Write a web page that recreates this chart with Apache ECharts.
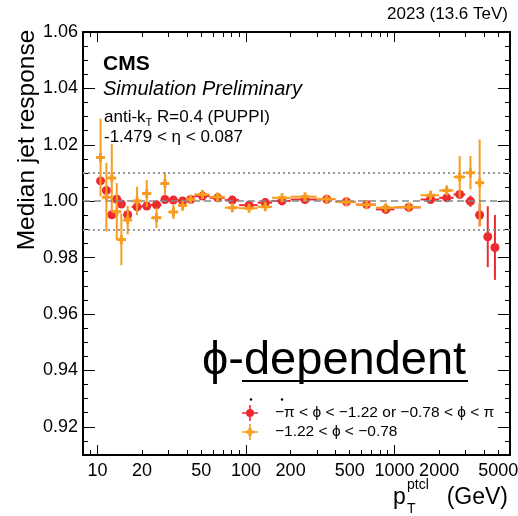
<!DOCTYPE html>
<html>
<head>
<meta charset="utf-8">
<script src="https://cdn.jsdelivr.net/npm/echarts@6/dist/echarts.min.js"></script>
<style>
  html, body { margin: 0; padding: 0; background: #fff; }
  #chart { width: 518px; height: 516px; }
</style>
</head>
<body>
<div id="chart"></div>
<script>
// pT bin edges (GeV); points sit at the bin centres
const binEdges = [10, 11, 12, 13, 14, 15, 17, 20, 23, 27, 30, 35, 40, 45, 57, 72, 90, 120, 150, 200,
  300, 400, 550, 750, 1000, 1500, 2000, 2500, 3000, 3500, 4000, 4500, 5000];

// -pi < phi < -1.22 or -0.78 < phi < pi
const redValues = [1.0072, 1.0038, 0.9952, 1.0007, 0.9990, 0.9952, 0.9980, 0.9983, 0.9987, 1.0006,
  1.0004, 1.0001, 1.0006, 1.0018, 1.0012, 1.0004, 0.9986, 0.9995, 1.0001, 1.0006,
  1.0007, 0.9998, 0.9988, 0.9971, 0.9978, 1.0006, 1.0012, 1.0024, 1.0000, 0.9951,
  0.9874, 0.9836];
const redErrors = [0.0012, 0.0012, 0.0012, 0.0012, 0.0011, 0.0010, 0.0009, 0.0008, 0.0007, 0.0007,
  0.0006, 0.0006, 0.0005, 0.0005, 0.0004, 0.0004, 0.0004, 0.0004, 0.0004, 0.0004,
  0.0004, 0.0005, 0.0005, 0.0006, 0.0006, 0.0008, 0.0010, 0.0015, 0.0020, 0.0040,
  0.0108, 0.0115];

// -1.22 < phi < -0.78
const orangeValues = [1.0155, 1.0014, 1.0082, 0.9963, 0.9864, 0.9933, 1.0001, 1.0027, 0.9941, 1.0063,
  0.9962, 0.9985, 1.0007, 1.0024, 1.0015, 0.9977, 0.9975, 0.9980, 1.0012, 1.0016,
  1.0008, 0.9997, 0.9987, 0.9977, 0.9979, 1.0021, 1.0038, 1.0086, 1.0101, 1.0065];
const orangeErrors = [0.0138, 0.0122, 0.0120, 0.0101, 0.0091, 0.0051, 0.0050, 0.0048, 0.0036, 0.0040,
  0.0025, 0.0020, 0.0015, 0.0012, 0.0010, 0.0009, 0.0008, 0.0008, 0.0008, 0.0007,
  0.0008, 0.0009, 0.0010, 0.0011, 0.0012, 0.0015, 0.0018, 0.0074, 0.0059, 0.0154];

const refLines = [0.99, 1.0, 1.01];

const xLabelValues = [10, 20, 50, 100, 200, 500, 1000, 2000, 5000];
const xDecadeTicks = [10, 100, 1000];
const xMinorTicks = [8, 9, 20, 30, 40, 50, 60, 70, 80, 90, 200, 300, 400, 500, 600, 700, 800, 900,
  2000, 3000, 4000, 5000];
const yLabelValues = [0.92, 0.94, 0.96, 0.98, 1.00, 1.02, 1.04, 1.06];
const yMinorTicks = [0.915, 0.925, 0.93, 0.935, 0.945, 0.95, 0.955, 0.965, 0.97, 0.975, 0.985, 0.99,
  0.995, 1.005, 1.01, 1.015, 1.025, 1.03, 1.035, 1.045, 1.05, 1.055];

const RED = '#ec2a30';
const ORANGE = '#f89c20';
const FONT = '"Liberation Sans", Arial, sans-serif';
const redName = '\u2212\u03c0 < \u03d5 < \u22121.22 or \u22120.78 < \u03d5 < \u03c0';
const orangeName = '\u22121.22 < \u03d5 < \u22120.78';

const plusPath = 'path://M3,0H6V3H9V6H6V9H3V6H0V3H3Z';
const redIcon = 'path://M9,0H11V20H9Z M0,9H20V11H0Z M15,10A5,5,0,1,1,5,10A5,5,0,1,1,15,10Z';
const orangeIcon = 'path://M9,0H11V20H9Z M0,9H20V11H0Z M8,5H12V8H15V12H12V15H8V12H5V8H8Z';

const buildRows = (values, errors) => values.map((v, i) => {
  const lo = binEdges[i];
  const hi = binEdges[i + 1];
  return [(lo + hi) / 2, v, errors[i], lo, hi];
});
const redRows = buildRows(redValues, redErrors);
const orangeRows = buildRows(orangeValues, orangeErrors);

const errorBars = (color) => (params, api) => {
  const x = api.value(0), y = api.value(1), e = api.value(2);
  const top = api.coord([x, y + e]);
  const bot = api.coord([x, y - e]);
  const l = api.coord([api.value(3), y]);
  const r = api.coord([api.value(4), y]);
  return {
    type: 'group',
    children: [
      { type: 'line', shape: { x1: top[0], y1: top[1], x2: bot[0], y2: bot[1] }, style: { stroke: color, lineWidth: 2 } },
      { type: 'line', shape: { x1: l[0], y1: l[1], x2: r[0], y2: r[1] }, style: { stroke: color, lineWidth: 2 } }
    ]
  };
};

const baseX = (position) => ({
  type: 'log',
  logBase: 10,
  min: 8,
  max: 6000,
  position,
  splitLine: { show: false },
  axisLabel: { show: false },
  axisLine: { show: false },
  axisTick: { show: false }
});
const baseY = (position) => ({
  type: 'value',
  min: 0.91,
  max: 1.06,
  position,
  splitLine: { show: false },
  axisLabel: { show: false },
  axisLine: { show: false, onZero: false },
  axisTick: { show: false }
});
const frameLine = { show: true, onZero: false, lineStyle: { color: '#000', width: 2 } };
const tick = (values, length) => ({
  show: true, inside: true, length, customValues: values, lineStyle: { color: '#000', width: 1 }
});

const chart = echarts.init(document.getElementById('chart'), null, { renderer: 'canvas' });

chart.setOption({
  animation: false,
  backgroundColor: '#fff',
  grid: { left: 83, right: 8, top: 32, bottom: 61, containLabel: false, outerBoundsMode: 'none' },
  xAxis: [
    {
      ...baseX('bottom'),
      axisLine: frameLine,
      axisTick: tick(xMinorTicks, 5),
      axisLabel: {
        show: true,
        customValues: xLabelValues,
        formatter: (v) => String(Math.round(v)),
        margin: 7,
        color: '#000',
        fontSize: 18,
        fontFamily: FONT
      }
    },
    { ...baseX('bottom'), axisTick: tick(xDecadeTicks, 10) },
    { ...baseX('top'), axisLine: frameLine, axisTick: tick(xMinorTicks, 5) },
    { ...baseX('top'), axisTick: tick(xDecadeTicks, 10) }
  ],
  yAxis: [
    {
      ...baseY('left'),
      axisLine: frameLine,
      axisTick: tick(yLabelValues, 12),
      axisLabel: {
        show: true,
        customValues: yLabelValues,
        formatter: (v) => v.toFixed(2),
        margin: 5,
        color: '#000',
        fontSize: 18,
        fontFamily: FONT
      }
    },
    { ...baseY('left'), axisTick: tick(yMinorTicks, 5) },
    { ...baseY('right'), axisLine: frameLine, axisTick: tick(yLabelValues, 12) },
    { ...baseY('right'), axisTick: tick(yMinorTicks, 5) }
  ],
  legend: {
    orient: 'vertical',
    left: 237,
    top: 400,
    itemWidth: 16,
    itemHeight: 16,
    itemGap: 3,
    selectedMode: false,
    textStyle: { color: '#000', fontSize: 15.5, fontFamily: FONT, padding: [0, 0, 0, 12] },
    data: [
      { name: redName, icon: redIcon },
      { name: orangeName, icon: orangeIcon }
    ]
  },
  series: [
    {
      name: 'redErr',
      type: 'custom',
      xAxisIndex: 0,
      yAxisIndex: 0,
      z: 2,
      renderItem: errorBars(RED),
      encode: { x: 0, y: 1 },
      data: redRows,
      markLine: {
        silent: true,
        symbol: 'none',
        label: { show: false },
        data: refLines.map((v) => ({
          yAxis: v,
          lineStyle: v === 1
            ? { type: [7, 4], color: '#888', width: 1.5 }
            : { type: [2, 3], color: '#999', width: 2 }
        }))
      }
    },
    {
      name: redName,
      type: 'scatter',
      xAxisIndex: 0,
      yAxisIndex: 0,
      z: 3,
      symbol: 'circle',
      symbolSize: 9,
      itemStyle: { color: RED, opacity: 1 },
      data: redRows.map((r) => [r[0], r[1]])
    },
    {
      name: 'orangeErr',
      type: 'custom',
      xAxisIndex: 0,
      yAxisIndex: 0,
      z: 4,
      renderItem: errorBars(ORANGE),
      encode: { x: 0, y: 1 },
      data: orangeRows
    },
    {
      name: orangeName,
      type: 'scatter',
      xAxisIndex: 0,
      yAxisIndex: 0,
      z: 5,
      symbol: plusPath,
      symbolSize: 9,
      itemStyle: { color: ORANGE, opacity: 1 },
      data: orangeRows.map((r) => [r[0], r[1]])
    }
  ],
  graphic: [
    { type: 'text', x: 508, y: 14, style: { text: '2023 (13.6 TeV)', font: '17px ' + FONT, fill: '#000', align: 'right', verticalAlign: 'middle' } },
    { type: 'text', x: 103, y: 64, style: { text: 'CMS', font: 'bold 21px ' + FONT, fill: '#000', verticalAlign: 'middle' } },
    { type: 'text', x: 103, y: 89, style: { text: 'Simulation Preliminary', font: 'italic 20px ' + FONT, fill: '#000', verticalAlign: 'middle' } },
    {
      type: 'text', x: 104, y: 107,
      style: {
        text: '{a|anti-k}{s|T}{a| R=0.4 (PUPPI)}',
        fill: '#000',
        rich: {
          a: { fontSize: 17, fontFamily: FONT, color: '#000', lineHeight: 21, verticalAlign: 'middle' },
          s: { fontSize: 11, fontFamily: FONT, color: '#000', lineHeight: 12, verticalAlign: 'bottom' }
        }
      }
    },
    { type: 'text', x: 104, y: 137, style: { text: '-1.479 < \u03b7 < 0.087', font: '17px ' + FONT, fill: '#000', verticalAlign: 'middle' } },
    { type: 'text', x: 202, y: 361, style: { text: '\u03d5-dependent', font: '47px ' + FONT, fill: '#000', verticalAlign: 'middle' } },
    { type: 'line', shape: { x1: 242, y1: 381, x2: 468, y2: 381 }, style: { stroke: '#000', lineWidth: 2 } },
    { type: 'circle', shape: { cx: 251, cy: 399.5, r: 1.2 }, style: { fill: '#000' } },
    { type: 'circle', shape: { cx: 282, cy: 399.5, r: 1.2 }, style: { fill: '#000' } },
    { type: 'text', x: 27, y: 140, rotation: Math.PI / 2, style: { text: 'Median jet response', font: '24.5px ' + FONT, fill: '#000', align: 'center', verticalAlign: 'middle' } },
    { type: 'text', x: 393, y: 498, style: { text: 'p', font: '23px ' + FONT, fill: '#000', verticalAlign: 'middle' } },
    { type: 'text', x: 407, y: 485, style: { text: 'ptcl', font: '14px ' + FONT, fill: '#000', verticalAlign: 'middle' } },
    { type: 'text', x: 407, y: 509, style: { text: 'T', font: '14px ' + FONT, fill: '#000', verticalAlign: 'middle' } },
    { type: 'text', x: 508, y: 498, style: { text: '(GeV)', font: '23px ' + FONT, fill: '#000', align: 'right', verticalAlign: 'middle' } }
  ]
});
</script>
</body>
</html>
